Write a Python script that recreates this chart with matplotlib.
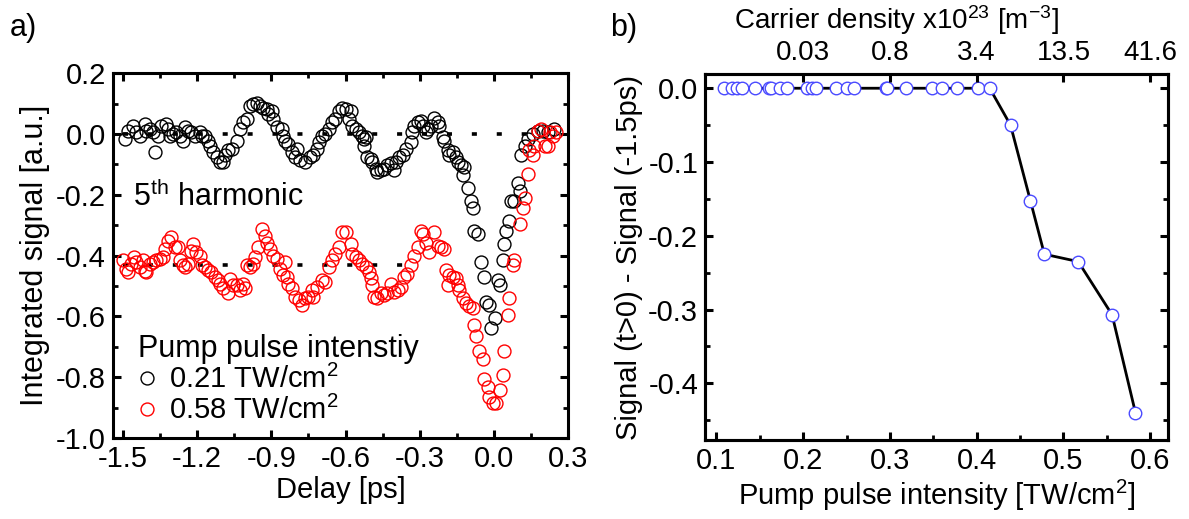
import matplotlib
matplotlib.use("Agg")
import matplotlib.pyplot as plt
from matplotlib.ticker import MultipleLocator, FixedLocator, FixedFormatter

plt.rcParams.update({
    "font.family": ["Liberation Sans", "DejaVu Sans"],
    "font.size": 21,
    "mathtext.fontset": "custom",
    "mathtext.rm": "Liberation Sans",
    "mathtext.it": "Liberation Sans:italic",
    "axes.unicode_minus": False,
    "axes.linewidth": 2.2,
    "xtick.direction": "in",
    "ytick.direction": "in",
    "xtick.major.size": 6,
    "ytick.major.size": 6,
    "xtick.minor.size": 3.5,
    "ytick.minor.size": 3.5,
    "xtick.major.width": 2.2,
    "ytick.major.width": 2.2,
    "xtick.minor.width": 2.0,
    "ytick.minor.width": 2.0,
    "xtick.major.pad": 5,
    "ytick.major.pad": 5,
})

# ---- panel a: 5th harmonic vs delay ----
delay_low = [
    -1.493, -1.480, -1.460, -1.446, -1.432, -1.412, -1.405, -1.392, -1.378, -1.371,
    -1.358, -1.345, -1.324, -1.318, -1.311, -1.297, -1.284, -1.270, -1.257, -1.250,
    -1.236, -1.223, -1.209, -1.189, -1.182, -1.169, -1.155, -1.148, -1.135, -1.121,
    -1.108, -1.094, -1.087, -1.074, -1.060, -1.040, -1.027, -1.013, -1.000, -0.986,
    -0.973, -0.959, -0.946, -0.932, -0.919, -0.912, -0.898, -0.892, -0.878, -0.858,
    -0.851, -0.844, -0.831, -0.817, -0.804, -0.797, -0.784, -0.763, -0.743, -0.730,
    -0.716, -0.709, -0.696, -0.682, -0.669, -0.655, -0.642, -0.628, -0.615, -0.600,
    -0.580, -0.586, -0.573, -0.559, -0.546, -0.532, -0.526, -0.519, -0.526, -0.512,
    -0.499, -0.492, -0.478, -0.472, -0.458, -0.445, -0.431, -0.418, -0.404, -0.397,
    -0.384, -0.370, -0.357, -0.337, -0.330, -0.323, -0.309, -0.296, -0.289, -0.276,
    -0.269, -0.255, -0.242, -0.228, -0.221, -0.208, -0.201, -0.188, -0.181, -0.167,
    -0.154, -0.147, -0.134, -0.120, -0.127, -0.107, -0.093, -0.086, -0.080, -0.066,
    -0.053, -0.039, -0.032, -0.019, -0.012, 0.002, 0.015, 0.022, 0.035, 0.042,
    0.049, 0.062, 0.069, 0.082, 0.096, 0.103, 0.109, 0.123, 0.136, 0.157,
    0.177, 0.197, 0.217, 0.244,
]
signal_low = [
    -0.016, 0.011, 0.027, 0.005, -0.006, 0.032, 0.011, 0.016, 0.005, -0.060,
    -0.006, 0.027, 0.032, 0.016, -0.006, 0.000, 0.005, -0.006, -0.022, 0.022,
    0.011, 0.005, -0.006, 0.005, -0.006, -0.006, -0.022, -0.038, -0.060, -0.076,
    -0.092, -0.092, -0.070, -0.054, -0.049, -0.022, 0.016, 0.038, 0.049, 0.092,
    0.097, 0.103, 0.092, 0.086, 0.081, 0.065, 0.076, 0.049, 0.022, 0.016,
    -0.006, -0.022, -0.032, -0.060, -0.076, -0.049, -0.087, -0.092, -0.076, -0.070,
    -0.049, -0.027, -0.006, 0.000, 0.016, 0.038, 0.049, 0.076, 0.086, 0.081,
    0.076, 0.049, 0.027, 0.016, 0.005, -0.006, -0.016, -0.011, -0.038, -0.076,
    -0.081, -0.092, -0.114, -0.124, -0.119, -0.114, -0.103, -0.097, -0.119, -0.092,
    -0.076, -0.070, -0.049, -0.027, 0.005, 0.027, 0.038, 0.043, 0.027, 0.005,
    0.016, 0.027, 0.054, 0.038, 0.027, -0.011, -0.022, -0.054, -0.070, -0.060,
    -0.076, -0.092, -0.103, -0.108, -0.135, -0.178, -0.222, -0.243, -0.319, -0.330,
    -0.421, -0.470, -0.551, -0.562, -0.638, -0.605, -0.481, -0.497, -0.416, -0.362,
    -0.319, -0.286, -0.222, -0.222, -0.162, -0.189, -0.070, -0.038, -0.016, 0.000,
    0.011, 0.011, 0.005, 0.016,
]

delay_high = [
    -1.500, -1.487, -1.480, -1.466, -1.453, -1.446, -1.432, -1.419, -1.412, -1.405,
    -1.392, -1.378, -1.365, -1.351, -1.338, -1.331, -1.317, -1.304, -1.290, -1.277,
    -1.270, -1.257, -1.250, -1.236, -1.223, -1.216, -1.203, -1.189, -1.182, -1.169,
    -1.155, -1.142, -1.128, -1.115, -1.108, -1.094, -1.074, -1.067, -1.054, -1.040,
    -1.027, -1.013, -1.007, -1.000, -0.986, -0.973, -0.966, -0.953, -0.939, -0.925,
    -0.919, -0.905, -0.892, -0.878, -0.865, -0.851, -0.844, -0.838, -0.831, -0.817,
    -0.804, -0.790, -0.777, -0.763, -0.750, -0.736, -0.730, -0.716, -0.696, -0.682,
    -0.669, -0.655, -0.642, -0.628, -0.615, -0.600, -0.580, -0.573, -0.559, -0.546,
    -0.532, -0.519, -0.505, -0.499, -0.492, -0.485, -0.472, -0.458, -0.445, -0.431,
    -0.418, -0.404, -0.390, -0.377, -0.363, -0.350, -0.337, -0.323, -0.309, -0.296,
    -0.289, -0.276, -0.262, -0.242, -0.228, -0.215, -0.201, -0.194, -0.188, -0.181,
    -0.167, -0.154, -0.147, -0.140, -0.127, -0.113, -0.100, -0.086, -0.080, -0.073,
    -0.059, -0.046, -0.039, -0.026, -0.019, -0.005, 0.008, 0.022, 0.035, 0.042,
    0.055, 0.062, 0.076, 0.082, 0.103, 0.116, 0.123, 0.136, 0.143, 0.157,
    0.163, 0.177, 0.190, 0.204, 0.217, 0.224, 0.237, 0.251,
]
signal_high = [
    -0.416, -0.443, -0.454, -0.427, -0.405, -0.421, -0.438, -0.416, -0.449, -0.454,
    -0.427, -0.421, -0.416, -0.411, -0.405, -0.378, -0.351, -0.340, -0.373, -0.373,
    -0.416, -0.432, -0.438, -0.427, -0.384, -0.362, -0.389, -0.400, -0.432, -0.438,
    -0.448, -0.454, -0.470, -0.481, -0.492, -0.508, -0.524, -0.476, -0.497, -0.497,
    -0.513, -0.492, -0.508, -0.432, -0.438, -0.427, -0.405, -0.373, -0.313, -0.335,
    -0.357, -0.378, -0.400, -0.411, -0.443, -0.465, -0.421, -0.470, -0.492, -0.508,
    -0.535, -0.546, -0.562, -0.540, -0.535, -0.513, -0.535, -0.502, -0.481, -0.486,
    -0.438, -0.416, -0.394, -0.373, -0.324, -0.324, -0.362, -0.394, -0.405, -0.416,
    -0.427, -0.438, -0.454, -0.475, -0.497, -0.535, -0.540, -0.524, -0.530, -0.524,
    -0.492, -0.519, -0.513, -0.502, -0.470, -0.459, -0.432, -0.400, -0.373, -0.319,
    -0.330, -0.357, -0.389, -0.324, -0.367, -0.373, -0.378, -0.448, -0.497, -0.465,
    -0.470, -0.475, -0.497, -0.513, -0.540, -0.556, -0.567, -0.573, -0.627, -0.665,
    -0.713, -0.740, -0.805, -0.832, -0.864, -0.886, -0.886, -0.843, -0.794, -0.713,
    -0.594, -0.540, -0.432, -0.416, -0.297, -0.243, -0.211, -0.130, -0.054, -0.070,
    -0.038, 0.011, 0.016, -0.038, -0.038, 0.005, -0.006, 0.005,
]
baseline_low = 0.0
baseline_high = -0.43
intensity_labels = ["0.21 TW/cm$^2$", "0.58 TW/cm$^2$"]

# ---- panel b: signal drop vs pump intensity ----
pump_intensity = [
    0.109, 0.118, 0.124, 0.129, 0.144, 0.161, 0.163, 0.173, 0.181, 0.204,
    0.210, 0.215, 0.238, 0.250, 0.259, 0.296, 0.297, 0.319, 0.349, 0.360,
    0.377, 0.401, 0.415, 0.439, 0.462, 0.478, 0.517, 0.556, 0.583,
]
signal_drop = [
    0.0, 0.0, 0.0, 0.0, 0.0, 0.0, 0.0, 0.0, 0.0, 0.0,
    0.0, 0.0, 0.0, 0.0, 0.0, 0.0, 0.0, 0.0, 0.0, 0.0,
    0.0, 0.0, 0.0, -0.050, -0.153, -0.225, -0.235, -0.307, -0.44,
]
carrier_ticks = [0.2, 0.3, 0.4, 0.5, 0.6]
carrier_labels = ["0.03", "0.8", "3.4", "13.5", "41.6"]


def one_decimal(v, pos):
    return f"{round(v, 3) + 0.0:.1f}"


fig = plt.figure(figsize=(11.89, 5.19), dpi=100)
ax1 = fig.add_axes([0.095, 0.156, 0.383, 0.703])
ax2 = fig.add_axes([0.593, 0.152, 0.389, 0.705])

# panel a
ax1.plot([-1.5, 0.2], [baseline_low] * 2, color="black", lw=2.6,
         linestyle=(0, (1.4, 5.5)), zorder=1)
ax1.plot([-1.5, -0.29], [baseline_high] * 2, color="black", lw=2.6,
         linestyle=(0, (1.4, 5.5)), zorder=1)
ax1.plot(delay_low, signal_low, "o", ms=9.3, mfc="none", mec="black", mew=1.0,
         label=intensity_labels[0], zorder=2)
ax1.plot(delay_high, signal_high, "o", ms=9.3, mfc="none", mec="red", mew=1.0,
         label=intensity_labels[1], zorder=2)
ax1.set_xlim(-1.54, 0.3)
ax1.set_ylim(-1.0, 0.2)
ax1.xaxis.set_major_locator(MultipleLocator(0.3))
ax1.xaxis.set_minor_locator(MultipleLocator(0.15))
ax1.yaxis.set_major_locator(MultipleLocator(0.2))
ax1.yaxis.set_minor_locator(MultipleLocator(0.1))
ax1.xaxis.set_major_formatter(plt.FuncFormatter(one_decimal))
ax1.yaxis.set_major_formatter(plt.FuncFormatter(one_decimal))
ax1.tick_params(which="both", top=True, right=True, labelsize=21)
ax1.set_xlabel("Delay [ps]", fontsize=21, labelpad=2)
ax1.set_ylabel("Integrated signal [a.u.]", fontsize=22, labelpad=4)
ax1.text(0.045, 0.66, "5$^{\\mathrm{th}}$ harmonic", transform=ax1.transAxes,
         fontsize=22, va="center")
leg = ax1.legend(loc="lower left", bbox_to_anchor=(0.01, -0.02), frameon=False,
                 title="Pump pulse intenstiy", title_fontsize=22, fontsize=21,
                 handlelength=0.6, handletextpad=0.45, labelspacing=0.05,
                 borderpad=0.2, markerscale=1.0)
leg._legend_box.align = "left"
fig.text(0.008, 0.93, "a)", fontsize=22)

# panel b
ax2.plot(pump_intensity, signal_drop, "-", color="black", lw=2.0, zorder=2)
ax2.plot(pump_intensity, signal_drop, "o", ms=9, mfc="white",
         mec="#4a4aff", mew=1.0, zorder=3)
ax2.set_xlim(0.087, 0.62)
ax2.set_ylim(-0.477, 0.019)
ax2.xaxis.set_major_locator(MultipleLocator(0.1))
ax2.xaxis.set_minor_locator(MultipleLocator(0.05))
ax2.yaxis.set_major_locator(MultipleLocator(0.1))
ax2.yaxis.set_minor_locator(MultipleLocator(0.05))
ax2.xaxis.set_major_formatter(plt.FuncFormatter(one_decimal))
ax2.yaxis.set_major_formatter(plt.FuncFormatter(one_decimal))
ax2.tick_params(which="both", right=True, labelsize=21)
ax2.set_xlabel("Pump pulse intensity [TW/cm$^2$]", fontsize=21, labelpad=2)
ax2.set_ylabel("Signal (t>0) - Signal (-1.5ps)", fontsize=21, labelpad=4)

top = ax2.twiny()
top.set_xlim(ax2.get_xlim())
top.xaxis.set_major_locator(FixedLocator(carrier_ticks))
top.xaxis.set_major_formatter(FixedFormatter(carrier_labels))
top.tick_params(which="both", direction="in", labelsize=20, pad=6)
fig.text(0.754, 0.962, "Carrier density x10$^{23}$ [m$^{\\mathrm{-3}}$]",
         fontsize=20, ha="center", va="center")
fig.text(0.513, 0.93, "b)", fontsize=22)

fig.savefig("out.png", dpi=100)
